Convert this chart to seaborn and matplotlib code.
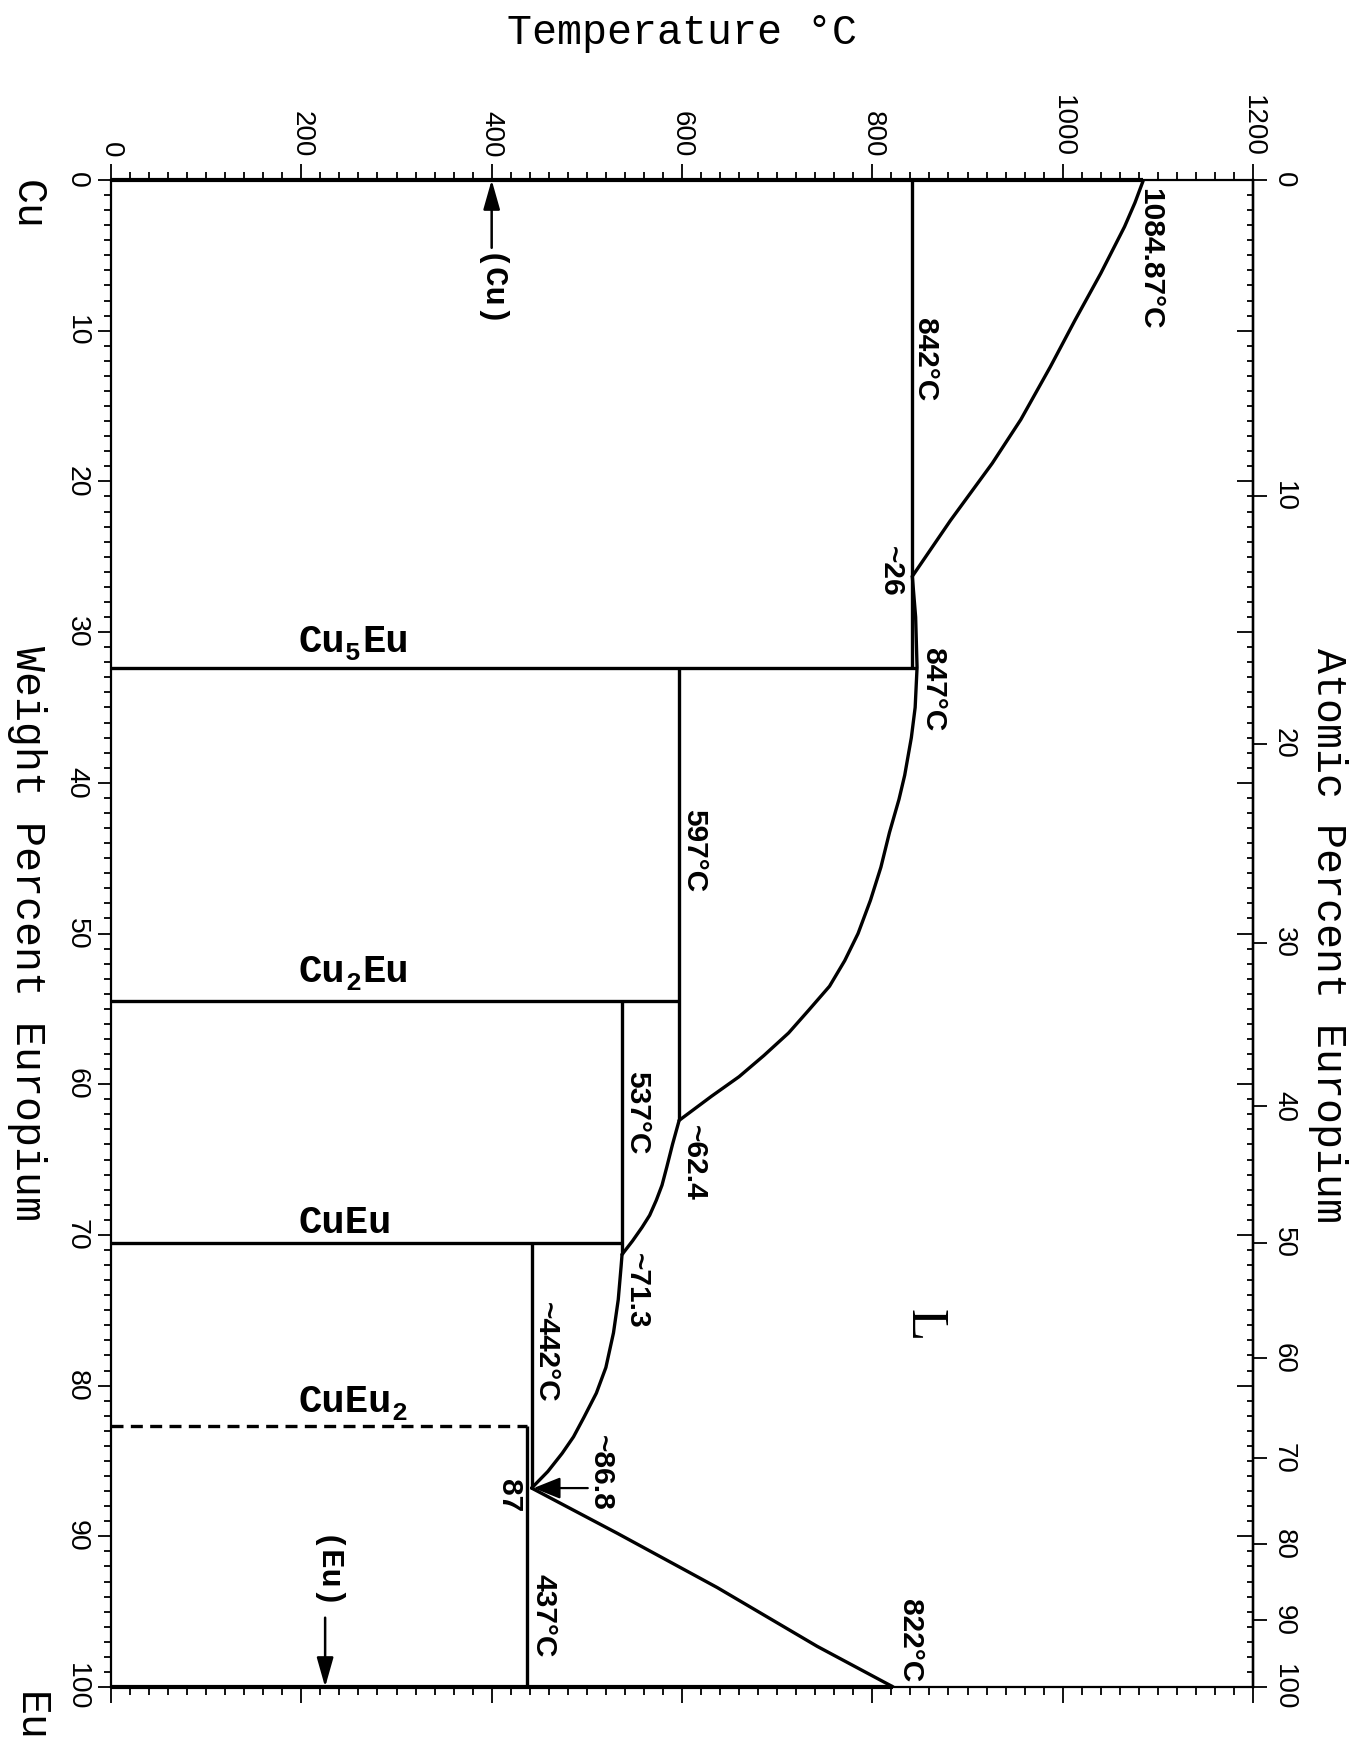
import numpy as np
import pandas as pd
import matplotlib
matplotlib.use("Agg")
import matplotlib.pyplot as plt
from matplotlib import transforms
from matplotlib.ticker import MultipleLocator, NullLocator
import seaborn as sns

# ---------------- data (weight % Eu, temperature °C) ----------------
liq_cu_wt = [0, 1.5, 3.1, 6.2, 9.3, 12.4, 15.9, 18.8, 22.6, 26.3]
liq_cu_T = [1084.87, 1076, 1065, 1040, 1013, 987, 956, 926, 882, 842]

liq_cu5eu_wt = [26.3, 29.0, 32.35, 35.0, 37.0, 39.5, 41.1, 43.3, 45.6, 47.8, 50.0, 51.8,
                53.5, 55.1, 56.6, 58.1, 59.5, 60.8, 62.4]
liq_cu5eu_T = [842, 845.5, 847, 845, 841, 834, 828, 818, 809, 798, 785, 771,
               755, 733, 712, 686, 660, 631, 597]

liq_mid_wt = [62.4, 64.0, 65.5, 66.7, 67.7, 68.7, 69.5, 70.4, 71.3]
liq_mid_T = [597, 590, 584, 579, 573, 566, 558, 548, 537]

liq_low_wt = [71.3, 72.1, 74.3, 76.5, 78.8, 80.5, 82.1, 83.4, 84.5, 85.7, 86.8]
liq_low_T = [537, 536, 533, 528, 520, 510, 497, 486, 474, 459, 442]

liq_eu_wt = [86.8, 89.8, 93.4, 97.3, 100]
liq_eu_T = [442, 532, 637, 742, 822]

# invariant (isotherm) lines: temperature, wt% start, wt% end
iso_T = [842, 597, 537, 442, 437]
iso_wt_start = [0, 32.35, 54.46, 70.51, 82.71]
iso_wt_end = [32.35, 62.4, 71.3, 86.8, 100]

# compounds: wt %, upper temperature of the line, label parts
comp_main = ["Cu", "Cu", "CuEu", "CuEu"]
comp_sub = ["5", "2", "", "2"]
comp_tail = ["Eu", "Eu", "", ""]
comp_wt = [32.35, 54.46, 70.51, 82.71]
comp_T = [847, 597, 537, 437]
comp_dashed = [False, False, False, True]
comp_label_wt = [31.3, 53.2, 69.9, 81.75]

# pure elements
cu_melt = 1084.87
eu_melt = 822

temp_ticks = [0, 200, 400, 600, 800, 1000, 1200]
wt_ticks = [0, 10, 20, 30, 40, 50, 60, 70, 80, 90, 100]
at_ticks = [0, 10, 20, 30, 40, 50, 60, 70, 80, 90, 100]

# point labels: text, temperature, wt%
pt_labels = ["1084.87°C", "842°C", "~26", "847°C", "597°C", "537°C", "~62.4",
             "~71.3", "~442°C", "~86.8", "87", "437°C", "822°C"]
pt_T = [1092, 855, 820, 864, 613, 553, 612, 553, 457, 515, 418, 454, 840]
pt_wt = [5.2, 11.9, 26.0, 33.8, 44.5, 61.9, 65.2, 73.7, 77.8, 85.8, 87.3, 95.3, 96.9]

M_CU, M_EU = 63.546, 151.964


def wt2at(w):
    w = np.asarray(w, dtype=float)
    a = w / M_EU
    b = (100 - w) / M_CU
    return 100 * a / (a + b)


def at2wt(x):
    x = np.asarray(x, dtype=float)
    a = x * M_EU
    b = (100 - x) * M_CU
    return 100 * a / (a + b)


# ---------------- styling ----------------
sns.set_theme(style="ticks")
plt.rcParams["font.family"] = ["Liberation Sans", "DejaVu Sans"]
for k in ["axes.edgecolor", "xtick.color", "ytick.color", "text.color", "axes.labelcolor"]:
    plt.rcParams[k] = "black"

W, H = 1353, 1745
DPI = 100
fig = plt.figure(figsize=(W / DPI, H / DPI), dpi=DPI)
fig.patch.set_facecolor("white")
left_px, right_px, top_px, bot_px = 111, 1253, 180, 1687
ax = fig.add_axes([left_px / W, 1 - bot_px / H, (right_px - left_px) / W, (bot_px - top_px) / H])
ax.set_xlim(0, 1200)
ax.set_ylim(100, 0)

LW = 2.4
K = "black"

# liquidus curves
for wts, Ts in [(liq_cu_wt, liq_cu_T), (liq_cu5eu_wt, liq_cu5eu_T), (liq_mid_wt, liq_mid_T),
                (liq_low_wt, liq_low_T), (liq_eu_wt, liq_eu_T)]:
    df = pd.DataFrame({"T": Ts, "wt": wts})
    sns.lineplot(data=df, x="T", y="wt", sort=False, estimator=None, color=K,
                 linewidth=LW, ax=ax, legend=False)
for line in ax.get_lines():
    line.set_solid_joinstyle("round")

# isotherms
ax.vlines(iso_T, iso_wt_start, iso_wt_end, colors=K, linewidth=LW)

# compounds
for w, t, d in zip(comp_wt, comp_T, comp_dashed):
    if d:
        ax.hlines(w, 0, t, colors=K, linewidth=LW, linestyles=(0, (3.6, 2.2)))
    else:
        ax.hlines(w, 0, t, colors=K, linewidth=LW)

# pure element lines (overlay frame)
ax.plot([0, cu_melt], [0, 0], color=K, lw=LW + 0.6, clip_on=False, solid_capstyle="butt")
ax.plot([0, eu_melt], [100, 100], color=K, lw=LW + 0.6, clip_on=False, solid_capstyle="butt")

# ---------------- axes / ticks ----------------
ax.set_xlabel("")
ax.set_ylabel("")
for s in ax.spines.values():
    s.set_linewidth(1.6)

ax.set_xticks(temp_ticks)
ax.xaxis.set_minor_locator(MultipleLocator(20))
ax.tick_params(axis="x", which="both", top=True, bottom=True, direction="out",
               labeltop=True, labelbottom=False, width=1.3)
ax.tick_params(axis="x", which="major", length=11.5, labelsize=20, pad=5, labelrotation=-90)
ax.tick_params(axis="x", which="minor", length=5.5)
for lab in ax.get_xticklabels():
    lab.set_va("bottom")
    lab.set_ha("center")

ax.set_yticks(wt_ticks)
ax.yaxis.set_minor_locator(MultipleLocator(1))
ax.tick_params(axis="y", which="both", left=True, right=False, direction="out", width=1.3)
ax.tick_params(axis="y", which="major", length=9.5, labelsize=20.5, pad=6, labelrotation=-90)
ax.tick_params(axis="y", which="minor", length=5)
for lab in ax.get_yticklabels():
    lab.set_va("center")
    lab.set_ha("right")

# inner wt% ticks on right side
sec_wt = ax.secondary_yaxis("right", functions=(lambda v: v, lambda v: v))
sec_wt.set_yticks(wt_ticks)
sec_wt.yaxis.set_minor_locator(MultipleLocator(1))
sec_wt.tick_params(which="both", direction="in", labelright=False, width=1.3)
sec_wt.tick_params(which="major", length=11.5)
sec_wt.tick_params(which="minor", length=4.5)
sec_wt.spines["right"].set_linewidth(1.6)

# atomic percent axis
sec_at = ax.secondary_yaxis("right", functions=(wt2at, at2wt))
sec_at.set_yticks(at_ticks)
sec_at.yaxis.set_minor_locator(NullLocator())
sec_at.tick_params(which="major", direction="out", length=10, width=1.3, labelsize=20,
                   pad=3, labelrotation=-90)
for lab in sec_at.get_yticklabels():
    lab.set_va("center")
    lab.set_ha("left")
sec_at.spines["right"].set_linewidth(1.6)

# ---------------- labels ----------------
for txt, t, w in zip(pt_labels, pt_T, pt_wt):
    ax.text(t, w, txt, rotation=-90, ha="center", va="center", fontsize=21.5,
            fontweight="bold", family=["Liberation Sans", "DejaVu Sans"])

# compound labels built from parts (monospace: advance = 0.6 em)
mono = "Liberation Mono"
FS_C, FS_S = 28, 19
adv_main = 0.6 * FS_C * DPI / 72.0
adv_sub = 0.6 * FS_S * DPI / 72.0
for main, sub, tail, w in zip(comp_main, comp_sub, comp_tail, comp_label_wt):
    ax.text(197, w, main, ha="left", va="baseline", fontsize=FS_C, fontweight="bold", family=mono)
    dx = adv_main * len(main)
    if sub:
        tr = transforms.offset_copy(ax.transData, fig=fig, x=dx, y=-8, units="dots")
        ax.text(197, w, sub, ha="left", va="baseline", fontsize=FS_S, fontweight="bold",
                family=mono, transform=tr)
        dx += adv_sub + 1
    if tail:
        tr = transforms.offset_copy(ax.transData, fig=fig, x=dx, y=0, units="dots")
        ax.text(197, w, tail, ha="left", va="baseline", fontsize=FS_C, fontweight="bold",
                family=mono, transform=tr)

ax.text(854, 76.0, "L", rotation=-90, ha="center", va="center", fontsize=38,
        family="Liberation Serif")

arrow_style = "-|>,head_length=0.6,head_width=0.17"
ax.annotate("", xy=(400, 0), xytext=(400, 4.5),
            arrowprops=dict(arrowstyle=arrow_style, color=K, lw=1.8, mutation_scale=30,
                            shrinkA=0, shrinkB=0))
ax.text(397, 7.4, "(Cu)", rotation=-90, ha="center", va="center", fontsize=23,
        fontweight="bold", family=mono)
ax.annotate("", xy=(225, 100), xytext=(225, 95.4),
            arrowprops=dict(arrowstyle=arrow_style, color=K, lw=1.8, mutation_scale=30,
                            shrinkA=0, shrinkB=0))
ax.text(224, 92.5, "(Eu)", rotation=-90, ha="center", va="center", fontsize=23,
        fontweight="bold", family=mono)
ax.annotate("", xy=(444, 86.8), xytext=(501, 86.8),
            arrowprops=dict(arrowstyle="-|>,head_length=0.55,head_width=0.22", color=K,
                            lw=1.6, mutation_scale=30, shrinkA=0, shrinkB=0))

fig.text(682 / W, 1 - 33 / H, "Temperature °C", ha="center", va="center", fontsize=30, family=mono)
fig.text(27 / W, 1 - 933 / H, "Weight Percent Europium", rotation=-90, ha="center", va="center",
         fontsize=30, family=mono)
fig.text(1328 / W, 1 - 935 / H, "Atomic Percent Europium", rotation=-90, ha="center", va="center",
         fontsize=30, family=mono)
fig.text(27 / W, 1 - 205 / H, "Cu", rotation=-90, ha="center", va="center", fontsize=30, family=mono)
fig.text(30 / W, 1 - 1717 / H, "Eu", rotation=-90, ha="center", va="center", fontsize=30, family=mono)

fig.savefig("out.png", dpi=DPI, facecolor="white")
